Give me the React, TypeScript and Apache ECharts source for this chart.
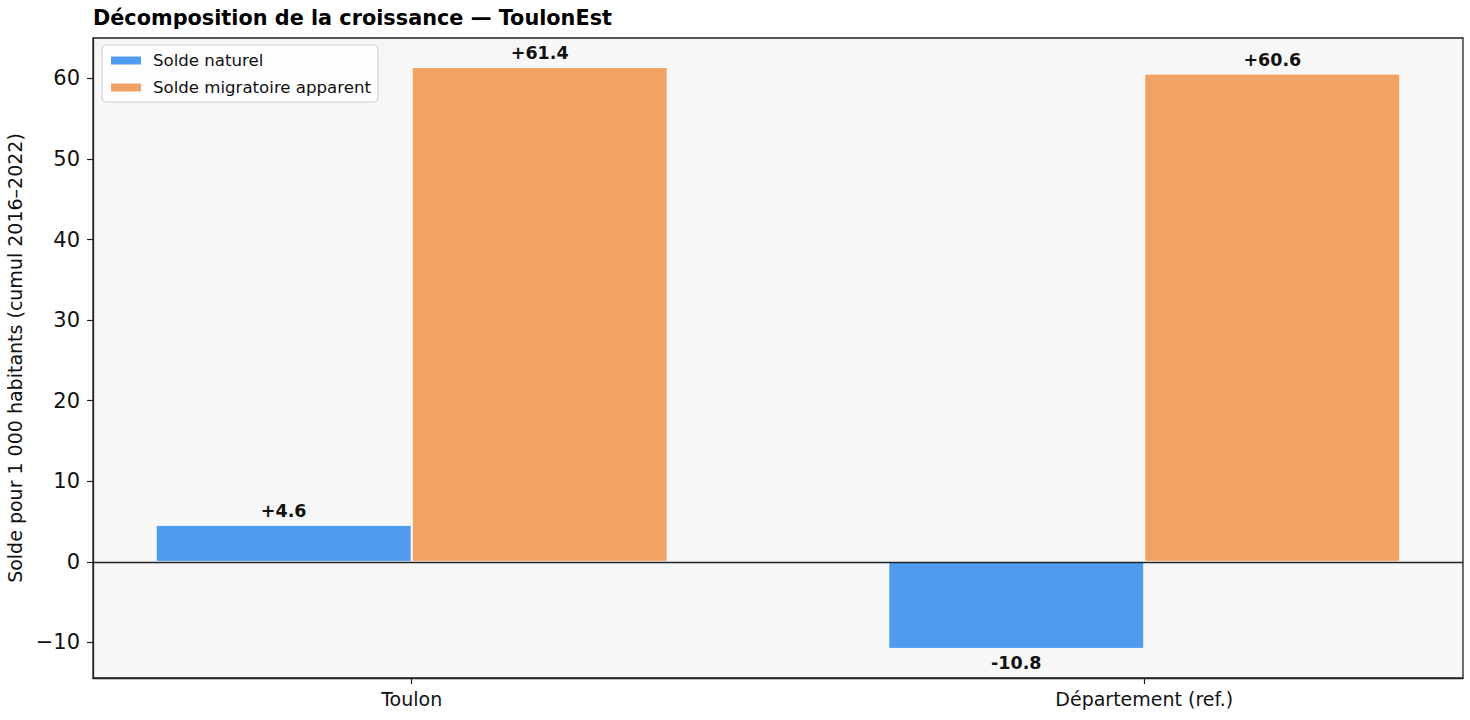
import React, { useEffect, useRef } from "react";
import * as echarts from "echarts";

const categories = ["Toulon", "Département (ref.)"];
const soldeNaturel = [4.6, -10.8];
const soldeMigratoire = [61.4, 60.6];
const seriesNames = ["Solde naturel", "Solde migratoire apparent"];
const yTicks = [-10, 0, 10, 20, 30, 40, 50, 60];
const titleText = "Décomposition de la croissance — ToulonEst";
const yAxisTitle = "Solde pour 1 000 habitants (cumul 2016–2022)";

const FONT = "DejaVu Sans";
const BLUE = "#4f9bef";
const ORANGE = "#f2a363";

function fmtVal(v: number): string {
  return (v > 0 ? "+" : "") + v.toFixed(1);
}

function makeData(values: number[]) {
  return values.map((v, i) => ({
    value: [i, v],
    label: {
      show: true,
      position: v >= 0 ? "top" : "bottom",
      distance: 5,
      formatter: () => fmtVal(v),
      fontFamily: FONT,
      fontWeight: "bold",
      fontSize: 17.5,
      color: "#111",
    },
  }));
}

export default function App() {
  const ref = useRef<HTMLDivElement>(null);
  useEffect(() => {
    if (!ref.current) return;
    const chart = echarts.init(ref.current, null, { renderer: "svg" });
    const allVals = [...soldeNaturel, ...soldeMigratoire];
    const dmin = Math.min(0, ...allVals);
    const dmax = Math.max(0, ...allVals);
    const pad = (dmax - dmin) * 0.05;
    const option: any = {
      animation: false,
      backgroundColor: "#ffffff",
      title: {
        text: titleText,
        left: 93,
        top: 7,
        padding: 0,
        textStyle: { fontFamily: FONT, fontWeight: "bold", fontSize: 20.8, color: "#000" },
      },
      legend: {
        orient: "vertical",
        left: 102,
        top: 45,
        padding: [7, 7, 6, 7],
        itemGap: 10,
        itemWidth: 32,
        itemHeight: 10,
        icon: "rect",
        backgroundColor: "rgba(255,255,255,0.85)",
        borderColor: "#cccccc",
        borderWidth: 1,
        borderRadius: 4,
        textStyle: { fontFamily: FONT, fontSize: 16.6, color: "#111", padding: [0, 0, 0, 6] },
        data: seriesNames,
      },
      grid: {
        left: 93,
        right: 7,
        top: 38,
        bottom: 42,
        show: true,
        backgroundColor: "#f7f7f7",
        borderColor: "#222",
        borderWidth: 1.3,
        containLabel: false,
        outerBoundsMode: "none",
      },
      xAxis: {
        type: "value",
        min: -0.435,
        max: 1.435,
        splitLine: { show: false },
        axisLine: { show: true, onZero: false, lineStyle: { color: "#222", width: 1.3 } },
        axisTick: { show: true, customValues: [0, 1], length: 6, lineStyle: { color: "#222", width: 1.2 } },
        axisLabel: {
          customValues: [0, 1],
          formatter: (v: number) => categories[Math.round(v)] ?? "",
          fontFamily: FONT,
          fontSize: 19,
          color: "#111",
          margin: 11,
        },
      },
      yAxis: {
        type: "value",
        min: dmin - pad,
        max: dmax + pad,
        splitLine: { show: false },
        name: yAxisTitle,
        nameLocation: "middle",
        nameGap: 67,
        nameTextStyle: { fontFamily: FONT, fontSize: 19, color: "#111" },
        axisLine: { show: true, onZero: false, lineStyle: { color: "#222", width: 1.3 } },
        axisTick: { show: true, customValues: yTicks, length: 6, lineStyle: { color: "#222", width: 1.2 } },
        axisLabel: {
          customValues: yTicks,
          formatter: (v: number) => String(v).replace("-", "\u2212"),
          fontFamily: FONT,
          fontSize: 21,
          color: "#111",
          margin: 13,
        },
      },
      series: [
        {
          name: seriesNames[0],
          type: "bar",
          barWidth: 256,
          barGap: "0%",
          itemStyle: { color: BLUE, borderColor: "#ffffff", borderWidth: 1 },
          data: makeData(soldeNaturel),
          markLine: {
            silent: true,
            symbol: "none",
            label: { show: false },
            lineStyle: { color: "#222", width: 1.3, type: "solid" },
            data: [{ yAxis: 0 }],
          },
          z: 2,
        },
        {
          name: seriesNames[1],
          type: "bar",
          barWidth: 256,
          barGap: "0%",
          itemStyle: { color: ORANGE, borderColor: "#ffffff", borderWidth: 1 },
          data: makeData(soldeMigratoire),
          z: 2,
        },
      ],
    };
    chart.setOption(option);
    return () => chart.dispose();
  }, []);
  return <div ref={ref} style={{ width: 1470, height: 720, position: "absolute", left: 0, top: 0 }} />;
}
